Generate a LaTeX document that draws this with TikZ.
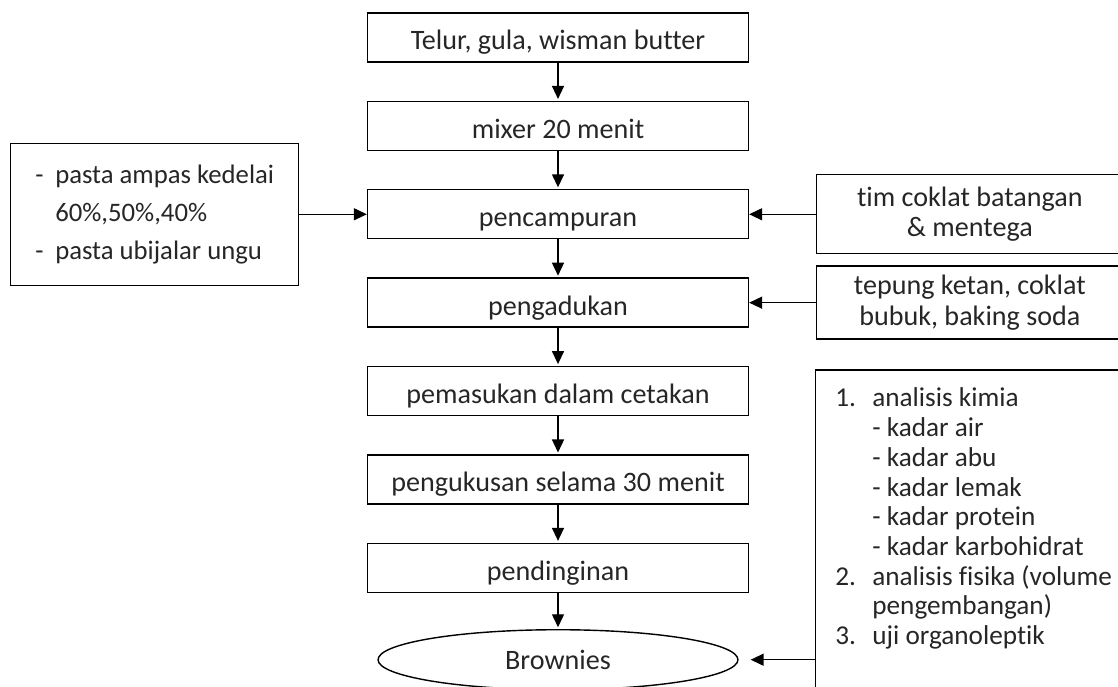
\documentclass[tikz,border=0pt]{standalone}
\usepackage{fontspec}
\setmainfont{Carlito}[Ligatures=NoCommon]
\usetikzlibrary{positioning,shapes.geometric,arrows.meta}

\tikzset{
  teks/.style={font=\fontsize{16}{17.5}\selectfont, text=black!85},
  proses/.style={teks, draw, minimum width=7.62cm, minimum height=0.98cm,
    inner ysep=0pt, text height=0.55cm, text depth=0.05cm},
  bahan/.style={teks, draw, align=center, minimum width=6.14cm},
  pasta/.style={draw, align=left, minimum width=5.76cm, minimum height=2.84cm,
    font=\fontsize{15.2}{21.5}\selectfont, text=black!85},
  analisis/.style={teks, align=left, inner xsep=0.38cm, inner ysep=0.35cm,
    font=\fontsize{15.5}{16.9}\selectfont},
  hasil/.style={teks, ellipse, draw, minimum width=7.2cm, minimum height=1.2cm}
}

\begin{document}
\begin{tikzpicture}[x=0.02cm, y=-0.02cm, node distance=0.76cm, line width=0.8pt,
  >={Triangle[length=0.26cm,width=0.24cm]}]
\useasboundingbox (0,0) rectangle (1118,686);

 \node[proses] (telur) at (558,37.5) {Telur, gula, wisman butter};
 \node[proses] (mixer) [below=of telur] {mixer 20 menit};
 \node[proses] (campur) [below=of mixer] {pencampuran};
 \node[proses] (aduk) [below=of campur] {pengadukan};
 \node[proses] (cetak) [below=of aduk] {pemasukan dalam cetakan};
 \node[proses] (kukus) [below=of cetak] {pengukusan selama 30 menit};
 \node[proses] (dingin) [below=of kukus] {pendinginan};
 \node[hasil] (brownies) [below=0.72cm of dingin] {Brownies};

 % bahan tambahan
 \node[pasta] (ampas) [left=1.35cm of campur] {\makebox[0.4cm][l]{-}pasta ampas kedelai\\
   \hspace*{0.4cm}60\%,50\%,40\%\\ \makebox[0.4cm][l]{-}pasta ubijalar ungu};
 \node[bahan, minimum height=1.58cm] (tim) [right=1.33cm of campur] {tim coklat batangan\\ \& mentega};
 \node[bahan, minimum height=1.46cm] (tepung) [right=1.33cm of aduk] {tepung ketan, coklat\\ bubuk, baking soda};

 % analisis
 \node[analisis] (uji) [below=0.6cm of tepung.south west, anchor=north west] {%
   \makebox[0.74cm][l]{1.}analisis kimia\\
   \hspace*{0.74cm}- kadar air\\
   \hspace*{0.74cm}- kadar abu\\
   \hspace*{0.74cm}- kadar lemak\\
   \hspace*{0.74cm}- kadar protein\\
   \hspace*{0.74cm}- kadar karbohidrat\\
   \makebox[0.74cm][l]{2.}analisis fisika (volume\\
   \hspace*{0.74cm}pengembangan)\\
   \makebox[0.74cm][l]{3.}uji organoleptik};
 \draw (uji.north west) rectangle ++(6.3cm,-8cm);

 \begin{scope}[shorten >=1pt]
 \path [->] (telur) edge (mixer);
 \path [->] (mixer) edge (campur);
 \path [->] (campur) edge (aduk);
 \path [->] (aduk) edge (cetak);
 \path [->] (cetak) edge (kukus);
 \path [->] (kukus) edge (dingin);
 \path [->] (dingin) edge (brownies);
 \end{scope}
 \path [->] (ampas) edge (campur);
 \path [->] (tim) edge (campur);
 \path [->] (tepung) edge (aduk);
 \path [->] (uji.west |- brownies) edge[shorten >=0.24cm] (brownies);
\end{tikzpicture}
\end{document}
